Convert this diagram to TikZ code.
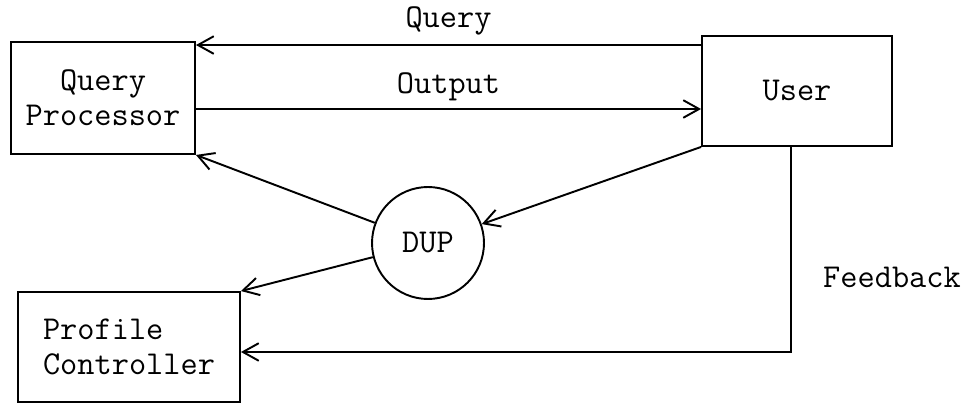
\documentclass[tikz,border=0pt]{standalone}
\usepackage{fontspec}
\usepackage{tikz}
\usetikzlibrary{arrows.meta}

\begin{document}
\begin{tikzpicture}[x=0.02cm,y=-0.02cm,line width=1.1pt,
    txt/.style={font=\ttfamily\fontsize{19}{20}\selectfont},
    box/.style={txt,draw,rectangle,inner sep=0pt},
    >={Straight Barb[length=9pt,width=10pt]}]
    \useasboundingbox (0,0) rectangle (972,404);
    \node[box,minimum width=3.68cm,minimum height=2.24cm,align=center] (qp) at (103,98) {Query\\Processor};
    \node[box,minimum width=3.8cm,minimum height=2.2cm] (user) at (797,91) {User};
    \node[box,minimum width=4.44cm,minimum height=2.2cm,align=left] (pc) at (129,347) {Profile\\Controller};
    \node[box,circle,minimum size=2.24cm] (dup) at (428,243) {DUP};
    \draw[->] ([yshift=-0.2cm]user.north west) -- ([yshift=-0.2cm]user.north west -| qp.east)
      node[txt,midway,above=2pt] (query) {Query};
    \draw[->] ([yshift=-0.22cm]qp.east) -- ([yshift=-0.22cm]qp.east -| user.west)
      node[txt,midway,above=1pt] (output) {Output};
    \draw[->] (user.south west) -- (dup);
    \draw[->] (dup) -- (qp.south east);
    \draw[->] (dup) -- (pc.north east);
    \draw[->] ([xshift=-0.12cm]user.south) |- ([yshift=-0.1cm]pc.east);
    \node[txt] (fb) at (892,277) {Feedback};
  \end{tikzpicture}
\end{document}
